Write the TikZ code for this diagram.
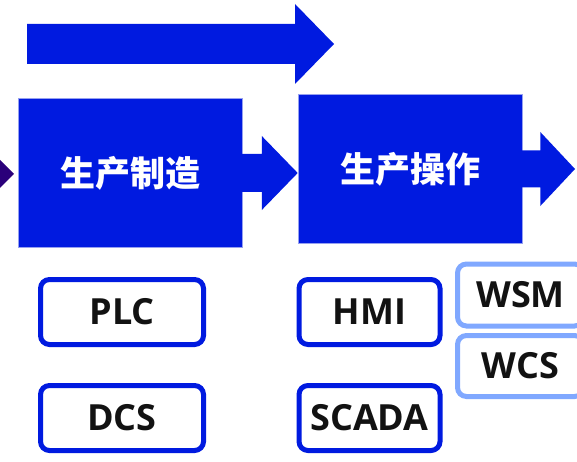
\documentclass[tikz,border=0pt]{standalone}
\usepackage{fontspec}
\setmainfont{Open Sans}
\newfontfamily\cjk{Noto Sans CJK SC}
\usetikzlibrary{calc}
\definecolor{mainblue}{RGB}{0,26,224}
\definecolor{edgeblue}{RGB}{150,160,240}
\definecolor{lightblue}{RGB}{128,168,255}
\definecolor{deeppurple}{RGB}{42,0,122}
\begin{document}
\begin{tikzpicture}[x=1pt,y=-1pt,
  stage/.style={fill=mainblue, draw=edgeblue, line width=0.6pt, minimum width=224pt, minimum height=149pt, inner sep=0pt,
    text=white, font=\cjk\bfseries\fontsize{35}{40}\selectfont},
  tagbox/.style={draw=mainblue, fill=white, line width=5pt, rounded corners=9pt, inner sep=0pt,
    minimum height=65pt, font=\bfseries\fontsize{36}{40}\selectfont, text=black!93},
  sidebox/.style={tagbox, draw=lightblue},
  blockarrow/.style={fill=mainblue}]
\useasboundingbox (0,0) rectangle (577,462);
\clip (0,0) rectangle (577,462);

% top long arrow
\fill[mainblue] (27,24) -- (295,24) -- (295,4) -- (334,44) -- (295,84) -- (295,64) -- (27,64) -- cycle;

% left partial arrow head
\fill[deeppurple] (-2,158) -- (14,174) -- (-2,190) -- cycle;

% stage boxes
\node[stage] (s1) at (130.5,173) {生产制造};
\node[stage] (s2) at (410,169) {生产操作};

% arrow between s1 and s2
\fill[blockarrow] ($(s1.east)+(-1,-19)$) -- ($(s1.east)+(19,-19)$) -- ($(s1.east)+(19,-37)$) -- ($(s2.west)+(0,4)$)
  -- ($(s1.east)+(19,37)$) -- ($(s1.east)+(19,19)$) -- ($(s1.east)+(-1,19)$) -- cycle;

% arrow after s2
\coordinate (tip2) at (575,169);
\fill[blockarrow] ($(s2.east)+(-1,-18.5)$) -- ($(s2.east)+(18,-18.5)$) -- ($(s2.east)+(18,-37)$) -- (tip2)
  -- ($(s2.east)+(18,37)$) -- ($(s2.east)+(18,18.5)$) -- ($(s2.east)+(-1,18.5)$) -- cycle;

% tag boxes
\node[tagbox, minimum width=163pt] (plc) at (122,312) {PLC};
\node[tagbox, minimum width=163pt] (dcs) at (122,418) {DCS};
\node[tagbox, minimum width=141pt] (hmi) at (369.5,312) {HMI};
\node[tagbox, minimum width=141pt] (scada) at (369.5,418) {SCADA};
\node[sidebox, minimum width=126pt, minimum height=62pt] (wsm) at (520.5,295) {WSM};
\node[sidebox, minimum width=126pt, minimum height=61pt] (wcs) at (520.5,366) {WCS};
\end{tikzpicture}
\end{document}
